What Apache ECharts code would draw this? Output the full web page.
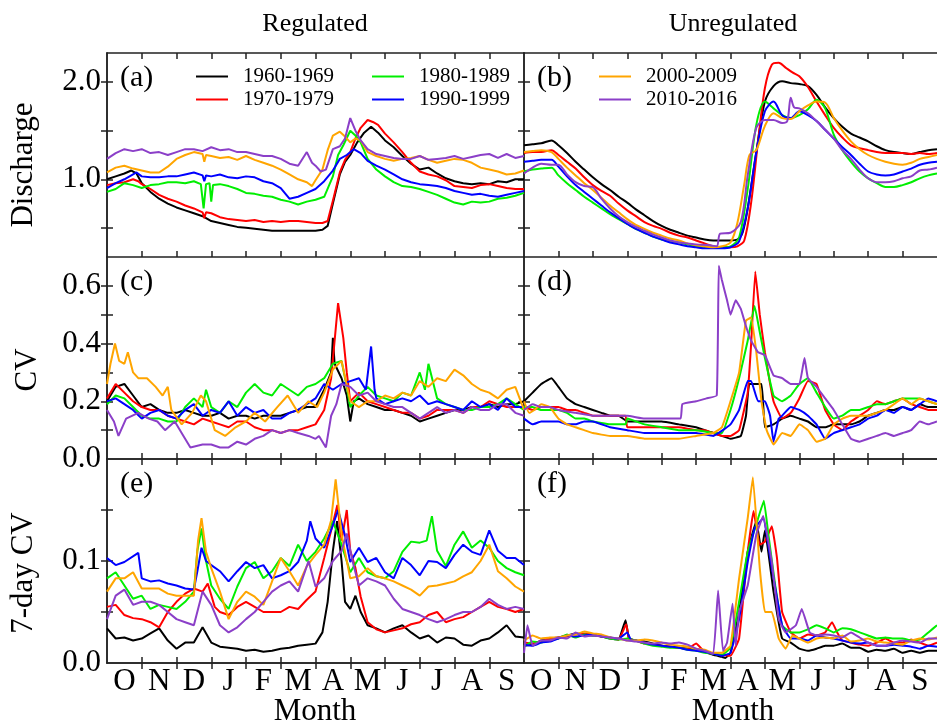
<!DOCTYPE html>
<html lang="en">
<head>
  <meta charset="UTF-8">
  <title>Discharge and CV, regulated vs unregulated</title>
  <script type="text/javascript" src="https://cdn.jsdelivr.net/npm/echarts@6/dist/echarts.min.js"></script>
  <style type="text/css">
    * { margin: 0; padding: 0; }
    html, body { width: 100%; height: 100%; background: #fff; }
    #chartbox { width: 937px; height: 723px; }
  </style>
</head>
<body>
<div id="chartbox"></div>
<script type="text/javascript">
  // month axis runs 0..12 (Oct .. Sep)
  const MONTHS = ['O', 'N', 'D', 'J', 'F', 'M', 'A', 'M', 'J', 'J', 'A', 'S'];
  const DECADES = ['1960-1969', '1970-1979', '1980-1989', '1990-1999', '2000-2009', '2010-2016'];

  // (a) regulated discharge
  const regQ60 = [[0,1.0],[0.25,1.03],[0.5,1.06],[0.7,1.09],[0.85,1.06],[1,0.96],[1.25,0.87],[1.5,0.80],[1.75,0.75],[2,0.71],[2.25,0.68],[2.5,0.65],[2.75,0.62],[3,0.57],[3.25,0.55],[3.5,0.53],[3.75,0.51],[4,0.50],[4.25,0.49],[4.5,0.48],[4.75,0.47],[5,0.47],[5.25,0.47],[5.5,0.47],[5.75,0.47],[6,0.47],[6.2,0.48],[6.35,0.52],[6.5,0.75],[6.7,1.05],[6.85,1.18],[7,1.25],[7.2,1.38],[7.4,1.48],[7.6,1.54],[7.8,1.48],[8,1.40],[8.25,1.33],[8.5,1.24],[8.75,1.16],[9,1.10],[9.25,1.12],[9.5,1.06],[9.75,1.01],[10,0.98],[10.25,0.96],[10.5,0.95],[10.75,0.96],[11,0.95],[11.25,0.98],[11.5,0.97],[11.75,1.0],[12,1.0]];
  const regQ70 = [[0,0.94],[0.25,0.96],[0.5,0.97],[0.75,1.0],[0.9,0.98],[1,0.95],[1.25,0.90],[1.5,0.84],[1.75,0.80],[2,0.77],[2.25,0.73],[2.5,0.70],[2.75,0.66],[2.8,0.60],[2.85,0.66],[3,0.65],[3.25,0.61],[3.5,0.59],[3.75,0.58],[4,0.57],[4.25,0.58],[4.5,0.56],[4.75,0.57],[5,0.56],[5.25,0.57],[5.5,0.57],[5.75,0.56],[6,0.55],[6.2,0.55],[6.35,0.57],[6.5,0.78],[6.7,1.07],[6.85,1.2],[7,1.28],[7.15,1.42],[7.3,1.53],[7.5,1.61],[7.65,1.59],[7.8,1.56],[8,1.47],[8.25,1.38],[8.5,1.28],[8.75,1.17],[9,1.08],[9.25,1.05],[9.5,1.03],[9.75,0.99],[10,0.93],[10.25,0.92],[10.5,0.91],[10.75,0.94],[11,0.95],[11.25,0.93],[11.5,0.91],[11.75,0.90],[12,0.90]];
  const regQ80 = [[0,0.87],[0.25,0.90],[0.5,0.96],[0.75,0.94],[1,0.91],[1.25,0.94],[1.5,0.95],[1.75,0.97],[2,0.97],[2.25,0.96],[2.5,0.98],[2.7,0.95],[2.78,0.70],[2.85,0.95],[2.95,0.96],[3.0,0.77],[3.05,0.94],[3.25,0.95],[3.5,0.93],[3.75,0.90],[4,0.86],[4.25,0.85],[4.5,0.83],[4.75,0.82],[5,0.79],[5.25,0.77],[5.5,0.74],[5.75,0.77],[6,0.79],[6.25,0.82],[6.5,1.03],[6.65,1.25],[6.8,1.35],[7,1.50],[7.15,1.45],[7.3,1.38],[7.5,1.21],[7.75,1.10],[8,1.03],[8.25,0.97],[8.5,0.93],[8.75,0.92],[9,0.90],[9.25,0.87],[9.5,0.84],[9.75,0.80],[10,0.76],[10.25,0.74],[10.5,0.77],[10.75,0.76],[11,0.77],[11.25,0.80],[11.5,0.81],[11.75,0.83],[12,0.86]];
  const regQ90 = [[0,0.91],[0.25,0.96],[0.5,1.0],[0.75,1.05],[0.85,1.07],[1,1.03],[1.25,1.02],[1.5,1.02],[1.75,1.03],[2,1.03],[2.25,1.05],[2.5,1.07],[2.75,1.04],[2.8,0.98],[2.85,1.04],[3,1.03],[3.25,1.05],[3.5,1.02],[3.75,1.01],[4,1.03],[4.25,1.02],[4.5,0.98],[4.75,0.96],[5,0.91],[5.25,0.80],[5.5,0.82],[5.75,0.86],[6,0.90],[6.25,0.98],[6.5,1.09],[6.7,1.21],[6.9,1.25],[7.1,1.31],[7.3,1.27],[7.5,1.19],[7.75,1.14],[8,1.10],[8.25,1.05],[8.5,1.00],[8.75,0.97],[9,0.95],[9.25,0.94],[9.5,0.93],[9.75,0.91],[10,0.88],[10.25,0.86],[10.5,0.84],[10.75,0.85],[11,0.83],[11.25,0.82],[11.5,0.84],[11.75,0.86],[12,0.88]];
  const regQ00 = [[0,1.07],[0.25,1.12],[0.5,1.14],[0.75,1.11],[1,1.09],[1.25,1.07],[1.5,1.07],[1.75,1.13],[2,1.21],[2.25,1.25],[2.5,1.28],[2.75,1.26],[2.8,1.18],[2.85,1.25],[3,1.24],[3.25,1.22],[3.5,1.23],[3.75,1.20],[4,1.24],[4.25,1.20],[4.5,1.17],[4.75,1.14],[5,1.10],[5.25,1.05],[5.5,1.00],[5.75,0.97],[5.9,0.93],[6,0.99],[6.2,1.10],[6.35,1.30],[6.5,1.45],[6.7,1.49],[6.85,1.44],[7,1.38],[7.15,1.42],[7.3,1.40],[7.5,1.28],[7.75,1.24],[8,1.21],[8.25,1.19],[8.5,1.21],[8.75,1.22],[9,1.24],[9.25,1.20],[9.5,1.17],[9.75,1.19],[10,1.21],[10.25,1.20],[10.5,1.17],[10.75,1.12],[11,1.10],[11.25,1.08],[11.5,1.05],[11.75,1.06],[12,1.09]];
  const regQ10 = [[0,1.21],[0.25,1.27],[0.5,1.31],[0.75,1.29],[1,1.31],[1.25,1.27],[1.5,1.28],[1.75,1.25],[2,1.28],[2.25,1.31],[2.5,1.31],[2.75,1.29],[3,1.33],[3.25,1.30],[3.5,1.31],[3.75,1.28],[4,1.28],[4.25,1.26],[4.5,1.24],[4.75,1.24],[5,1.21],[5.25,1.16],[5.5,1.14],[5.75,1.28],[5.9,1.17],[6,1.14],[6.15,1.08],[6.3,1.10],[6.5,1.31],[6.7,1.34],[6.85,1.42],[7,1.63],[7.15,1.50],[7.3,1.40],[7.5,1.31],[7.75,1.26],[8,1.24],[8.25,1.22],[8.5,1.21],[8.75,1.21],[9,1.24],[9.25,1.20],[9.5,1.21],[9.75,1.22],[10,1.24],[10.25,1.21],[10.5,1.23],[10.75,1.25],[11,1.26],[11.25,1.22],[11.5,1.26],[11.75,1.22],[12,1.24]];

  // (b) unregulated discharge
  const unregQ60 = [[0,1.35],[0.25,1.36],[0.5,1.37],[0.8,1.40],[1,1.35],[1.25,1.27],[1.5,1.18],[1.75,1.10],[2,1.02],[2.25,0.95],[2.5,0.89],[2.75,0.82],[3,0.76],[3.25,0.69],[3.5,0.63],[3.75,0.57],[4,0.52],[4.25,0.48],[4.5,0.45],[4.75,0.42],[5,0.40],[5.25,0.38],[5.5,0.37],[5.75,0.37],[6,0.37],[6.2,0.38],[6.35,0.45],[6.5,0.70],[6.75,1.28],[7,1.80],[7.25,1.96],[7.5,2.01],[7.75,1.99],[8,1.98],[8.25,1.96],[8.5,1.87],[8.75,1.74],[9,1.63],[9.25,1.54],[9.5,1.47],[9.75,1.43],[10,1.39],[10.25,1.34],[10.5,1.30],[10.75,1.28],[11,1.27],[11.25,1.26],[11.5,1.28],[11.75,1.30],[12,1.31]];
  const unregQ70 = [[0,1.27],[0.25,1.28],[0.5,1.28],[0.8,1.30],[1,1.25],[1.25,1.18],[1.5,1.11],[1.75,1.02],[2,0.94],[2.25,0.88],[2.5,0.83],[2.75,0.75],[3,0.68],[3.25,0.62],[3.5,0.56],[3.75,0.52],[4,0.49],[4.25,0.45],[4.5,0.42],[4.75,0.40],[5,0.37],[5.25,0.34],[5.5,0.31],[5.75,0.30],[6,0.30],[6.2,0.31],[6.4,0.37],[6.6,0.76],[6.8,1.39],[7,1.94],[7.2,2.18],[7.4,2.20],[7.6,2.15],[7.8,2.10],[8,2.06],[8.25,1.95],[8.5,1.80],[8.75,1.66],[9,1.53],[9.25,1.43],[9.5,1.35],[9.75,1.32],[10,1.30],[10.25,1.28],[10.5,1.27],[10.75,1.27],[11,1.27],[11.25,1.26],[11.5,1.27],[11.75,1.26],[12,1.27]];
  const unregQ80 = [[0,1.08],[0.25,1.10],[0.5,1.11],[0.8,1.12],[1,1.04],[1.25,0.96],[1.5,0.89],[1.75,0.82],[2,0.76],[2.25,0.70],[2.5,0.64],[2.75,0.59],[3,0.54],[3.25,0.49],[3.5,0.45],[3.75,0.41],[4,0.38],[4.25,0.36],[4.5,0.35],[4.75,0.33],[5,0.31],[5.25,0.30],[5.5,0.30],[5.75,0.30],[6,0.31],[6.25,0.40],[6.5,0.90],[6.75,1.56],[7,1.80],[7.25,1.73],[7.5,1.66],[7.75,1.63],[8,1.66],[8.25,1.72],[8.5,1.82],[8.75,1.73],[9,1.46],[9.25,1.30],[9.5,1.18],[9.75,1.08],[10,1.01],[10.25,0.96],[10.5,0.92],[10.75,0.92],[11,0.94],[11.25,0.97],[11.5,1.01],[11.75,1.04],[12,1.06]];
  const unregQ90 = [[0,1.18],[0.25,1.19],[0.5,1.20],[0.8,1.20],[1,1.13],[1.25,1.03],[1.5,0.94],[1.75,0.87],[2,0.80],[2.25,0.73],[2.5,0.66],[2.75,0.60],[3,0.54],[3.25,0.49],[3.5,0.45],[3.75,0.41],[4,0.38],[4.25,0.35],[4.5,0.33],[4.75,0.31],[5,0.30],[5.25,0.29],[5.5,0.29],[5.75,0.29],[6,0.30],[6.25,0.36],[6.5,0.70],[6.75,1.28],[7,1.70],[7.25,1.80],[7.5,1.66],[7.75,1.63],[8,1.70],[8.25,1.66],[8.5,1.60],[8.75,1.51],[9,1.42],[9.25,1.33],[9.5,1.25],[9.75,1.16],[10,1.08],[10.25,1.05],[10.5,1.04],[10.75,1.05],[11,1.08],[11.25,1.11],[11.5,1.15],[11.75,1.17],[12,1.18]];
  const unregQ00 = [[0,1.28],[0.25,1.29],[0.5,1.30],[0.8,1.28],[1,1.21],[1.25,1.12],[1.5,1.04],[1.75,0.96],[2,0.89],[2.25,0.81],[2.5,0.73],[2.75,0.66],[3,0.59],[3.25,0.53],[3.5,0.49],[3.75,0.45],[4,0.42],[4.25,0.39],[4.5,0.37],[4.75,0.34],[5,0.32],[5.25,0.31],[5.5,0.30],[5.75,0.31],[6,0.35],[6.2,0.55],[6.4,0.95],[6.55,1.25],[6.75,1.30],[7,1.55],[7.25,1.68],[7.5,1.63],[7.75,1.62],[8,1.70],[8.25,1.76],[8.5,1.80],[8.75,1.79],[9,1.63],[9.25,1.50],[9.5,1.39],[9.75,1.31],[10,1.25],[10.25,1.21],[10.5,1.18],[10.75,1.16],[11,1.15],[11.25,1.17],[11.5,1.21],[11.75,1.23],[12,1.25]];
  const unregQ10 = [[0,1.06],[0.25,1.12],[0.5,1.16],[0.8,1.15],[1,1.15],[1.25,1.05],[1.5,0.97],[1.75,0.93],[2,0.92],[2.25,0.80],[2.5,0.70],[2.75,0.62],[3,0.56],[3.25,0.51],[3.5,0.47],[3.75,0.43],[4,0.40],[4.25,0.37],[4.5,0.35],[4.75,0.34],[5,0.33],[5.4,0.32],[5.6,0.31],[5.7,0.44],[6,0.45],[6.3,0.56],[6.5,1.04],[6.75,1.53],[7,1.61],[7.25,1.61],[7.5,1.58],[7.65,1.60],[7.75,1.84],[7.85,1.74],[8,1.73],[8.25,1.68],[8.5,1.60],[8.75,1.51],[9,1.42],[9.25,1.30],[9.5,1.21],[9.75,1.10],[10,1.01],[10.25,0.97],[10.5,0.97],[10.75,0.98],[11,1.01],[11.25,1.03],[11.5,1.09],[11.75,1.10],[12,1.12]];

  // (c) regulated CV
  const regCv60 = [[0,0.20],[0.25,0.25],[0.5,0.26],[0.75,0.22],[1,0.18],[1.25,0.19],[1.5,0.17],[1.75,0.16],[2,0.16],[2.25,0.17],[2.5,0.16],[2.75,0.15],[3,0.15],[3.25,0.16],[3.5,0.14],[3.75,0.15],[4,0.15],[4.25,0.14],[4.5,0.15],[4.75,0.15],[5,0.15],[5.25,0.16],[5.5,0.17],[5.75,0.18],[6,0.18],[6.25,0.24],[6.45,0.30],[6.5,0.42],[6.55,0.33],[6.75,0.28],[6.9,0.22],[7,0.13],[7.1,0.20],[7.25,0.21],[7.5,0.19],[7.75,0.18],[8,0.17],[8.25,0.17],[8.5,0.16],[8.75,0.15],[9,0.13],[9.25,0.14],[9.5,0.15],[9.75,0.16],[10,0.17],[10.25,0.17],[10.5,0.18],[10.75,0.18],[11,0.19],[11.25,0.18],[11.5,0.19],[11.75,0.19],[12,0.20]];
  const regCv70 = [[0,0.21],[0.25,0.26],[0.5,0.23],[0.75,0.20],[1,0.18],[1.25,0.17],[1.5,0.17],[1.75,0.15],[2,0.14],[2.25,0.13],[2.5,0.12],[2.75,0.14],[3,0.13],[3.25,0.12],[3.5,0.11],[3.75,0.13],[4,0.13],[4.25,0.11],[4.5,0.10],[4.75,0.10],[5,0.09],[5.25,0.10],[5.5,0.10],[5.75,0.11],[6,0.12],[6.25,0.17],[6.45,0.28],[6.65,0.54],[6.8,0.42],[6.9,0.30],[7,0.20],[7.25,0.23],[7.5,0.20],[7.75,0.19],[8,0.18],[8.25,0.17],[8.5,0.16],[8.75,0.16],[9,0.14],[9.25,0.15],[9.5,0.17],[9.75,0.17],[10,0.17],[10.25,0.16],[10.5,0.18],[10.75,0.18],[11,0.20],[11.25,0.19],[11.5,0.18],[11.75,0.18],[12,0.18]];
  const regCv80 = [[0,0.19],[0.25,0.22],[0.5,0.21],[0.75,0.18],[1,0.15],[1.25,0.14],[1.5,0.14],[1.75,0.13],[2,0.13],[2.25,0.18],[2.5,0.21],[2.75,0.18],[2.85,0.24],[3,0.18],[3.25,0.16],[3.5,0.20],[3.75,0.18],[4,0.23],[4.25,0.26],[4.5,0.23],[4.75,0.22],[5,0.26],[5.25,0.24],[5.5,0.22],[5.75,0.25],[6,0.26],[6.25,0.28],[6.5,0.33],[6.75,0.34],[6.9,0.25],[7,0.18],[7.25,0.22],[7.5,0.25],[7.75,0.22],[8,0.21],[8.25,0.20],[8.5,0.23],[8.75,0.22],[9,0.30],[9.15,0.24],[9.25,0.33],[9.5,0.21],[9.75,0.19],[10,0.18],[10.25,0.17],[10.5,0.17],[10.75,0.18],[11,0.18],[11.25,0.19],[11.5,0.21],[11.75,0.19],[12,0.17]];
  const regCv90 = [[0,0.20],[0.25,0.21],[0.5,0.19],[0.75,0.17],[1,0.14],[1.25,0.16],[1.5,0.17],[1.75,0.15],[2,0.14],[2.25,0.17],[2.5,0.19],[2.75,0.15],[3,0.17],[3.25,0.16],[3.5,0.20],[3.75,0.15],[4,0.18],[4.25,0.16],[4.5,0.17],[4.75,0.14],[5,0.14],[5.25,0.16],[5.5,0.17],[5.75,0.19],[6,0.21],[6.25,0.26],[6.5,0.24],[6.75,0.26],[7,0.27],[7.25,0.28],[7.45,0.24],[7.6,0.39],[7.7,0.24],[7.75,0.21],[8,0.19],[8.25,0.20],[8.5,0.21],[8.75,0.20],[9,0.22],[9.25,0.19],[9.5,0.20],[9.75,0.19],[10,0.18],[10.25,0.17],[10.5,0.20],[10.75,0.18],[11,0.19],[11.25,0.17],[11.5,0.21],[11.75,0.18],[12,0.18]];
  const regCv00 = [[0,0.26],[0.1,0.33],[0.23,0.40],[0.35,0.34],[0.5,0.33],[0.6,0.37],[0.75,0.30],[0.9,0.28],[1.15,0.28],[1.4,0.25],[1.6,0.22],[1.75,0.25],[1.85,0.17],[2.15,0.12],[2.45,0.16],[2.7,0.22],[2.85,0.20],[3.1,0.10],[3.4,0.08],[3.7,0.11],[4,0.13],[4.25,0.16],[4.55,0.13],[4.9,0.18],[5.2,0.22],[5.5,0.16],[5.8,0.20],[6.05,0.18],[6.25,0.23],[6.5,0.31],[6.75,0.34],[7,0.20],[7.25,0.18],[7.5,0.20],[7.75,0.20],[8,0.22],[8.25,0.21],[8.5,0.23],[8.75,0.22],[9,0.27],[9.25,0.25],[9.5,0.28],[9.75,0.27],[10,0.31],[10.25,0.29],[10.5,0.26],[10.75,0.24],[11,0.23],[11.25,0.21],[11.5,0.24],[11.75,0.25],[12,0.17]];
  const regCv10 = [[0,0.17],[0.2,0.13],[0.33,0.08],[0.55,0.14],[0.9,0.16],[1.2,0.14],[1.45,0.13],[1.67,0.10],[1.95,0.13],[2.2,0.08],[2.4,0.04],[2.75,0.05],[3,0.05],[3.25,0.04],[3.5,0.04],[3.75,0.06],[4,0.05],[4.25,0.07],[4.5,0.08],[4.75,0.10],[5,0.09],[5.25,0.10],[5.5,0.09],[5.8,0.08],[6,0.07],[6.1,0.08],[6.3,0.04],[6.45,0.15],[6.6,0.19],[6.75,0.26],[7,0.25],[7.25,0.22],[7.5,0.23],[7.75,0.20],[8,0.19],[8.25,0.18],[8.5,0.18],[8.75,0.16],[9,0.14],[9.25,0.16],[9.5,0.18],[9.75,0.16],[10,0.17],[10.25,0.16],[10.5,0.18],[10.75,0.17],[11,0.17],[11.25,0.19],[11.5,0.19],[11.75,0.16],[12,0.15]];

  // (d) unregulated CV
  const unregCv60 = [[0,0.20],[0.25,0.23],[0.5,0.26],[0.8,0.28],[1,0.25],[1.25,0.21],[1.5,0.19],[1.75,0.18],[2,0.17],[2.25,0.16],[2.5,0.15],[2.75,0.15],[3,0.13],[3.5,0.13],[4,0.13],[4.5,0.12],[5,0.11],[5.25,0.10],[5.5,0.09],[5.75,0.08],[6,0.07],[6.3,0.08],[6.45,0.15],[6.55,0.26],[6.9,0.26],[7.0,0.11],[7.25,0.12],[7.5,0.14],[7.75,0.15],[8,0.14],[8.25,0.13],[8.5,0.11],[8.75,0.11],[9,0.12],[9.25,0.12],[9.5,0.12],[9.75,0.13],[10,0.15],[10.25,0.16],[10.5,0.17],[10.75,0.17],[11,0.18],[11.25,0.17],[11.5,0.19],[11.75,0.18],[12,0.18]];
  const unregCv70 = [[0,0.18],[0.25,0.17],[0.5,0.18],[0.75,0.18],[1,0.18],[1.25,0.17],[1.5,0.17],[1.75,0.16],[2,0.15],[2.5,0.15],[2.95,0.15],[3.0,0.11],[3.5,0.11],[4,0.11],[4.5,0.11],[5,0.10],[5.25,0.10],[5.5,0.09],[5.75,0.08],[6,0.08],[6.25,0.10],[6.5,0.23],[6.6,0.40],[6.72,0.65],[6.85,0.50],[7,0.37],[7.25,0.20],[7.5,0.14],[7.75,0.16],[8,0.21],[8.25,0.27],[8.5,0.26],[8.75,0.17],[9,0.12],[9.25,0.10],[9.5,0.13],[9.75,0.15],[10,0.17],[10.25,0.20],[10.5,0.19],[10.75,0.20],[11,0.21],[11.25,0.19],[11.5,0.18],[11.75,0.17],[12,0.17]];
  const unregCv80 = [[0,0.18],[0.25,0.18],[0.5,0.17],[0.75,0.17],[1,0.17],[1.25,0.16],[1.5,0.14],[1.75,0.14],[2,0.13],[2.5,0.12],[2.95,0.12],[3,0.14],[3.5,0.12],[4,0.11],[4.5,0.10],[5,0.10],[5.5,0.09],[5.75,0.09],[6,0.17],[6.25,0.28],[6.5,0.41],[6.7,0.53],[6.85,0.44],[7,0.35],[7.25,0.22],[7.5,0.20],[7.75,0.22],[8,0.26],[8.25,0.28],[8.5,0.23],[8.75,0.18],[9,0.14],[9.25,0.15],[9.5,0.17],[9.75,0.17],[10,0.18],[10.25,0.19],[10.5,0.19],[10.75,0.20],[11,0.21],[11.25,0.21],[11.5,0.21],[11.75,0.20],[12,0.19]];
  const unregCv90 = [[0,0.14],[0.25,0.12],[0.5,0.13],[0.75,0.13],[1,0.13],[1.25,0.12],[1.5,0.12],[1.75,0.13],[2,0.13],[2.5,0.11],[3,0.10],[3.5,0.09],[4,0.09],[4.5,0.09],[5,0.09],[5.5,0.08],[6,0.12],[6.25,0.17],[6.5,0.27],[6.6,0.27],[6.8,0.20],[7,0.20],[7.15,0.15],[7.25,0.06],[7.4,0.14],[7.5,0.15],[7.75,0.18],[8,0.17],[8.25,0.15],[8.5,0.12],[8.75,0.07],[9,0.09],[9.25,0.10],[9.5,0.11],[9.75,0.12],[10,0.14],[10.25,0.15],[10.5,0.17],[10.75,0.16],[11,0.18],[11.25,0.17],[11.5,0.19],[11.75,0.21],[12,0.20]];
  const unregCv00 = [[0,0.20],[0.15,0.16],[0.3,0.17],[0.5,0.19],[0.75,0.18],[1,0.14],[1.25,0.12],[1.5,0.11],[1.75,0.10],[2,0.09],[2.5,0.08],[3,0.08],[3.5,0.07],[4,0.07],[4.5,0.07],[5,0.08],[5.5,0.09],[5.75,0.11],[6,0.20],[6.25,0.30],[6.45,0.48],[6.6,0.49],[6.75,0.37],[6.9,0.20],[7.05,0.10],[7.25,0.05],[7.5,0.09],[7.75,0.08],[8,0.12],[8.25,0.10],[8.5,0.06],[8.75,0.07],[9,0.12],[9.25,0.14],[9.5,0.15],[9.75,0.15],[10,0.15],[10.25,0.16],[10.5,0.17],[10.75,0.19],[11,0.21],[11.25,0.19],[11.5,0.21],[11.75,0.20],[12,0.19]];
  const unregCv10 = [[0,0.17],[0.25,0.19],[0.5,0.18],[0.75,0.18],[1,0.17],[1.5,0.16],[2,0.15],[2.5,0.15],[3,0.15],[3.5,0.14],[4,0.14],[4.55,0.14],[4.6,0.19],[5,0.20],[5.3,0.21],[5.6,0.22],[5.66,0.67],[5.75,0.62],[5.9,0.55],[6.0,0.50],[6.15,0.55],[6.3,0.52],[6.45,0.46],[6.6,0.41],[6.8,0.37],[7,0.36],[7.25,0.29],[7.5,0.28],[7.75,0.26],[8,0.26],[8.15,0.35],[8.25,0.28],[8.5,0.25],[8.75,0.21],[9,0.17],[9.25,0.12],[9.5,0.07],[9.75,0.06],[10,0.07],[10.25,0.08],[10.5,0.09],[10.75,0.08],[11,0.09],[11.25,0.10],[11.5,0.13],[11.75,0.12],[12,0.13]];

  // (e) regulated 7-day CV
  const regCw60 = [[0,0.034],[0.25,0.024],[0.5,0.025],[0.75,0.022],[1,0.024],[1.25,0.029],[1.5,0.034],[1.75,0.022],[2,0.014],[2.25,0.020],[2.5,0.020],[2.75,0.035],[3,0.020],[3.25,0.016],[3.5,0.015],[3.75,0.014],[4,0.012],[4.25,0.013],[4.5,0.011],[4.75,0.012],[5,0.014],[5.25,0.015],[5.5,0.017],[5.75,0.018],[6,0.019],[6.2,0.030],[6.35,0.060],[6.5,0.110],[6.62,0.139],[6.75,0.100],[6.85,0.060],[7,0.053],[7.15,0.066],[7.3,0.050],[7.5,0.037],[7.75,0.034],[8,0.030],[8.25,0.034],[8.5,0.037],[8.75,0.030],[9,0.024],[9.25,0.027],[9.5,0.020],[9.75,0.025],[10,0.024],[10.25,0.018],[10.5,0.017],[10.75,0.022],[11,0.024],[11.25,0.030],[11.5,0.037],[11.75,0.026],[12,0.025]];
  const regCw70 = [[0,0.055],[0.25,0.057],[0.5,0.047],[0.75,0.044],[1,0.043],[1.25,0.040],[1.5,0.035],[1.75,0.050],[2,0.060],[2.25,0.068],[2.5,0.073],[2.75,0.070],[2.9,0.078],[3.1,0.055],[3.25,0.050],[3.5,0.047],[3.75,0.055],[4,0.060],[4.25,0.055],[4.5,0.050],[4.75,0.050],[5,0.050],[5.25,0.055],[5.5,0.053],[5.75,0.062],[6,0.070],[6.25,0.103],[6.45,0.130],[6.63,0.155],[6.75,0.120],[6.9,0.150],[7,0.110],[7.15,0.093],[7.3,0.065],[7.5,0.040],[7.75,0.033],[8,0.030],[8.25,0.032],[8.5,0.034],[8.75,0.038],[9,0.040],[9.25,0.047],[9.5,0.050],[9.75,0.040],[10,0.043],[10.25,0.045],[10.5,0.050],[10.75,0.055],[11,0.060],[11.25,0.055],[11.5,0.053],[11.75,0.050],[12,0.053]];
  const regCw80 = [[0,0.083],[0.25,0.089],[0.5,0.076],[0.75,0.063],[1,0.066],[1.25,0.053],[1.5,0.057],[1.75,0.055],[2,0.053],[2.25,0.060],[2.5,0.070],[2.6,0.110],[2.72,0.132],[2.85,0.100],[3,0.076],[3.25,0.063],[3.5,0.053],[3.75,0.075],[4,0.093],[4.25,0.099],[4.5,0.083],[4.75,0.090],[5,0.103],[5.25,0.095],[5.5,0.116],[5.75,0.100],[6,0.109],[6.25,0.122],[6.5,0.139],[6.75,0.116],[7,0.089],[7.25,0.103],[7.5,0.089],[7.75,0.085],[8,0.083],[8.25,0.090],[8.5,0.109],[8.75,0.119],[9,0.118],[9.2,0.120],[9.35,0.144],[9.5,0.110],[9.75,0.095],[10,0.116],[10.25,0.129],[10.5,0.113],[10.75,0.120],[11,0.113],[11.25,0.100],[11.5,0.093],[11.75,0.089],[12,0.086]];
  const regCw90 = [[0,0.103],[0.25,0.096],[0.5,0.099],[0.9,0.108],[1,0.083],[1.25,0.080],[1.5,0.081],[1.75,0.078],[2,0.076],[2.25,0.073],[2.5,0.072],[2.6,0.090],[2.72,0.113],[2.85,0.100],[3,0.096],[3.25,0.090],[3.5,0.080],[3.75,0.090],[4,0.099],[4.25,0.093],[4.5,0.096],[4.75,0.083],[5,0.086],[5.25,0.090],[5.5,0.099],[5.75,0.120],[5.85,0.139],[6,0.122],[6.25,0.113],[6.5,0.135],[6.65,0.150],[6.85,0.125],[7,0.099],[7.25,0.113],[7.5,0.099],[7.75,0.103],[8,0.089],[8.25,0.083],[8.5,0.103],[8.75,0.096],[9,0.086],[9.25,0.100],[9.5,0.099],[9.75,0.093],[10,0.106],[10.25,0.116],[10.5,0.109],[10.75,0.106],[11,0.130],[11.25,0.110],[11.5,0.103],[11.75,0.103],[12,0.096]];
  const regCw00 = [[0,0.070],[0.25,0.083],[0.5,0.083],[0.75,0.089],[1,0.073],[1.25,0.073],[1.5,0.073],[1.75,0.068],[2,0.066],[2.25,0.066],[2.5,0.066],[2.62,0.120],[2.72,0.142],[2.85,0.109],[3,0.093],[3.25,0.070],[3.5,0.043],[3.75,0.060],[4,0.070],[4.25,0.065],[4.5,0.057],[4.75,0.080],[5,0.103],[5.25,0.090],[5.5,0.076],[5.75,0.095],[6,0.106],[6.25,0.116],[6.45,0.140],[6.58,0.180],[6.75,0.126],[7,0.083],[7.25,0.085],[7.5,0.093],[7.75,0.085],[8,0.083],[8.25,0.080],[8.5,0.076],[8.75,0.072],[9,0.066],[9.25,0.075],[9.5,0.076],[9.75,0.078],[10,0.080],[10.25,0.085],[10.5,0.089],[10.75,0.100],[11,0.116],[11.25,0.090],[11.5,0.083],[11.75,0.075],[12,0.070]];
  const regCw10 = [[0,0.043],[0.25,0.066],[0.5,0.072],[0.75,0.057],[1,0.060],[1.25,0.060],[1.5,0.057],[1.75,0.050],[2,0.043],[2.25,0.040],[2.5,0.037],[2.75,0.070],[3,0.057],[3.25,0.037],[3.5,0.030],[3.75,0.035],[4,0.043],[4.25,0.050],[4.5,0.060],[4.75,0.070],[5,0.076],[5.25,0.080],[5.5,0.070],[5.8,0.100],[6,0.075],[6.25,0.083],[6.5,0.100],[6.75,0.110],[6.9,0.127],[7.1,0.095],[7.25,0.076],[7.5,0.083],[7.75,0.080],[8,0.076],[8.25,0.063],[8.5,0.053],[8.75,0.050],[9,0.047],[9.25,0.043],[9.5,0.040],[9.75,0.043],[10,0.047],[10.25,0.050],[10.5,0.050],[10.75,0.055],[11,0.063],[11.25,0.057],[11.5,0.053],[11.75,0.055],[12,0.053]];

  // (f) unregulated 7-day CV
  const unregCw60 = [[0,0.017],[0.25,0.018],[0.5,0.022],[0.75,0.024],[1,0.025],[1.25,0.027],[1.5,0.029],[1.75,0.028],[2,0.027],[2.25,0.026],[2.5,0.024],[2.75,0.023],[2.95,0.042],[3.05,0.024],[3.25,0.022],[3.5,0.021],[3.75,0.019],[4,0.017],[4.25,0.016],[4.5,0.015],[4.75,0.014],[5,0.013],[5.25,0.011],[5.5,0.008],[5.75,0.006],[5.85,0.005],[6,0.010],[6.25,0.050],[6.5,0.109],[6.75,0.139],[6.9,0.109],[7,0.130],[7.25,0.070],[7.5,0.024],[7.75,0.020],[8,0.014],[8.25,0.012],[8.5,0.014],[8.75,0.017],[9,0.017],[9.25,0.019],[9.5,0.015],[9.75,0.015],[10,0.011],[10.25,0.013],[10.5,0.012],[10.75,0.014],[11,0.010],[11.25,0.012],[11.5,0.010],[11.75,0.012],[12,0.012]];
  const unregCw70 = [[0,0.020],[0.25,0.019],[0.5,0.021],[0.75,0.024],[1,0.025],[1.25,0.026],[1.5,0.028],[1.75,0.029],[2,0.028],[2.25,0.026],[2.5,0.025],[2.75,0.023],[2.97,0.038],[3.05,0.024],[3.25,0.022],[3.5,0.019],[3.75,0.018],[4,0.017],[4.25,0.016],[4.5,0.015],[4.75,0.014],[5,0.019],[5.25,0.011],[5.5,0.009],[5.75,0.008],[6,0.007],[6.25,0.024],[6.5,0.109],[6.67,0.149],[6.85,0.116],[7,0.119],[7.2,0.134],[7.35,0.103],[7.5,0.050],[7.75,0.030],[8,0.024],[8.25,0.028],[8.5,0.027],[8.75,0.030],[8.95,0.040],[9.1,0.030],[9.25,0.022],[9.5,0.020],[9.75,0.018],[10,0.017],[10.25,0.020],[10.5,0.024],[10.75,0.020],[11,0.020],[11.25,0.023],[11.5,0.020],[11.75,0.017],[12,0.020]];
  const unregCw80 = [[0,0.016],[0.25,0.021],[0.5,0.020],[0.75,0.022],[1,0.024],[1.25,0.028],[1.5,0.025],[1.75,0.028],[2,0.027],[2.25,0.026],[2.5,0.024],[2.75,0.023],[3,0.024],[3.25,0.022],[3.5,0.019],[3.75,0.017],[4,0.016],[4.25,0.015],[4.5,0.015],[4.75,0.013],[5,0.012],[5.25,0.010],[5.5,0.009],[5.75,0.008],[6,0.015],[6.25,0.060],[6.5,0.109],[6.75,0.136],[6.97,0.159],[7.1,0.126],[7.3,0.076],[7.5,0.037],[7.75,0.030],[8,0.030],[8.25,0.033],[8.5,0.037],[8.75,0.034],[9,0.030],[9.25,0.034],[9.5,0.033],[9.75,0.030],[10,0.027],[10.25,0.024],[10.5,0.025],[10.75,0.024],[11,0.024],[11.25,0.022],[11.5,0.023],[11.75,0.030],[12,0.037]];
  const unregCw90 = [[0,0.018],[0.25,0.017],[0.5,0.020],[0.75,0.021],[1,0.024],[1.25,0.027],[1.5,0.026],[1.75,0.027],[2,0.028],[2.25,0.026],[2.5,0.025],[2.75,0.024],[3,0.030],[3.1,0.023],[3.25,0.022],[3.5,0.020],[3.75,0.018],[4,0.017],[4.25,0.016],[4.5,0.015],[4.75,0.013],[5,0.012],[5.25,0.011],[5.5,0.009],[5.75,0.007],[6,0.010],[6.25,0.043],[6.5,0.099],[6.7,0.132],[6.95,0.142],[7.2,0.093],[7.5,0.037],[7.75,0.024],[8,0.024],[8.25,0.022],[8.5,0.027],[8.75,0.025],[9,0.024],[9.25,0.022],[9.5,0.020],[9.75,0.019],[10,0.020],[10.25,0.017],[10.5,0.017],[10.75,0.018],[11,0.017],[11.25,0.016],[11.5,0.014],[11.75,0.017],[12,0.016]];
  const unregCw00 = [[0,0.022],[0.25,0.027],[0.5,0.024],[0.75,0.025],[1,0.025],[1.25,0.027],[1.5,0.028],[1.75,0.031],[2,0.029],[2.25,0.028],[2.5,0.025],[2.75,0.024],[3,0.022],[3.25,0.022],[3.5,0.023],[3.75,0.022],[4,0.020],[4.25,0.018],[4.5,0.017],[4.75,0.016],[5,0.014],[5.25,0.013],[5.5,0.010],[5.75,0.010],[6,0.017],[6.25,0.083],[6.5,0.142],[6.65,0.182],[6.85,0.093],[7,0.050],[7.2,0.050],[7.4,0.024],[7.6,0.014],[7.8,0.027],[8,0.024],[8.25,0.020],[8.5,0.024],[8.75,0.025],[9,0.024],[9.25,0.027],[9.5,0.021],[9.75,0.022],[10,0.024],[10.25,0.021],[10.5,0.020],[10.75,0.019],[11,0.018],[11.25,0.022],[11.5,0.024],[11.75,0.023],[12,0.025]];
  const unregCw10 = [[0,0.010],[0.1,0.037],[0.25,0.017],[0.5,0.022],[0.75,0.022],[1,0.025],[1.25,0.024],[1.5,0.030],[1.75,0.026],[2,0.027],[2.25,0.026],[2.5,0.025],[2.75,0.024],[3,0.022],[3.25,0.021],[3.5,0.020],[3.75,0.019],[4,0.020],[4.25,0.019],[4.5,0.020],[4.75,0.018],[5,0.014],[5.25,0.012],[5.5,0.009],[5.64,0.071],[5.78,0.012],[5.9,0.020],[6.06,0.058],[6.15,0.017],[6.25,0.050],[6.5,0.076],[6.75,0.126],[6.95,0.144],[7.2,0.099],[7.4,0.043],[7.6,0.030],[7.9,0.037],[8.07,0.053],[8.3,0.030],[8.5,0.027],[8.75,0.028],[9,0.027],[9.25,0.025],[9.5,0.030],[9.75,0.025],[10,0.020],[10.25,0.017],[10.5,0.017],[10.75,0.020],[11,0.022],[11.25,0.021],[11.5,0.020],[11.75,0.024],[12,0.024]];

  const COLORS = ['#000000', '#ff0000', '#00ee00', '#0000ff', '#ffa500', '#8b3fc8'];
  const FONT = '"Liberation Serif", "Times New Roman", serif';
  const MONTH_TICKS = [1, 2, 3, 4, 5, 6, 7, 8, 9, 10, 11];
  const MONTH_LABEL_POS = [0.5, 1.5, 2.5, 3.5, 4.5, 5.5, 6.5, 7.5, 8.5, 9.5, 10.5, 11.5];

  const colLeft = [107, 524];
  const colWidth = 417;
  const rowTop = [53, 257, 459];
  const rowHeight = [204, 202, 204];

  const panels = [
    {tag: '(a)', col: 0, row: 0, min: 0.2, max: 2.3, ticks: [0.5, 1, 1.5, 2], labels: [1, 2], smooth: 0,
      data: [regQ60, regQ70, regQ80, regQ90, regQ00, regQ10]},
    {tag: '(b)', col: 1, row: 0, min: 0.2, max: 2.3, ticks: [0.5, 1, 1.5, 2], labels: [], smooth: 0.3,
      data: [unregQ60, unregQ70, unregQ80, unregQ90, unregQ00, unregQ10]},
    {tag: '(c)', col: 0, row: 1, min: 0, max: 0.7, ticks: [0.1, 0.2, 0.3, 0.4, 0.5, 0.6], labels: [0, 0.2, 0.4, 0.6], smooth: 0,
      data: [regCv60, regCv70, regCv80, regCv90, regCv00, regCv10]},
    {tag: '(d)', col: 1, row: 1, min: 0, max: 0.7, ticks: [0.1, 0.2, 0.3, 0.4, 0.5, 0.6], labels: [], smooth: 0.1,
      data: [unregCv60, unregCv70, unregCv80, unregCv90, unregCv00, unregCv10]},
    {tag: '(e)', col: 0, row: 2, min: 0, max: 0.2, ticks: [0.05, 0.1, 0.15], labels: [0, 0.1], smooth: 0,
      data: [regCw60, regCw70, regCw80, regCw90, regCw00, regCw10]},
    {tag: '(f)', col: 1, row: 2, min: 0, max: 0.2, ticks: [0.05, 0.1, 0.15], labels: [], smooth: 0.1,
      data: [unregCw60, unregCw70, unregCw80, unregCw90, unregCw00, unregCw10]}
  ];

  const lineAxis = {show: true, lineStyle: {color: '#222', width: 1.5}};
  const tickStyle = {lineStyle: {color: '#222', width: 1.5}};

  let grids = [], xAxes = [], yAxes = [], series = [], graphics = [];

  panels.forEach(function (p, i) {
    grids.push({left: colLeft[p.col], top: rowTop[p.row], width: colWidth, height: rowHeight[p.row]});
    let bottomRow = p.row === 2;
    // bottom (data) and top (mirror ticks) month axes
    xAxes.push({
      type: 'value', gridIndex: i, min: 0, max: 12, position: 'bottom',
      axisLine: lineAxis,
      axisTick: Object.assign({show: true, inside: true, length: 6, customValues: MONTH_TICKS}, tickStyle),
      axisLabel: {
        show: bottomRow, customValues: MONTH_LABEL_POS, margin: 3,
        fontFamily: FONT, fontSize: 31, color: '#000',
        formatter: function (v) { return MONTHS[Math.floor(v)]; }
      },
      splitLine: {show: false}
    });
    xAxes.push({
      type: 'value', gridIndex: i, min: 0, max: 12, position: 'top',
      axisLine: lineAxis,
      axisTick: Object.assign({show: true, inside: true, length: 6, customValues: MONTH_TICKS}, tickStyle),
      axisLabel: {show: false}, splitLine: {show: false}
    });
    yAxes.push({
      type: 'value', gridIndex: i, min: p.min, max: p.max, position: 'left',
      axisLine: lineAxis,
      axisTick: Object.assign({show: true, inside: true, length: 6, customValues: p.ticks}, tickStyle),
      axisLabel: {
        show: p.labels.length > 0, customValues: p.labels, margin: 6,
        fontFamily: FONT, fontSize: 31, color: '#000',
        formatter: function (v) { return v.toFixed(1); }
      },
      splitLine: {show: false}
    });
    yAxes.push({
      type: 'value', gridIndex: i, min: p.min, max: p.max, position: 'right',
      axisLine: lineAxis,
      axisTick: Object.assign({show: true, inside: true, length: 6, customValues: p.ticks}, tickStyle),
      axisLabel: {show: false}, splitLine: {show: false}
    });
    p.data.forEach(function (d, k) {
      series.push({
        name: DECADES[k], type: 'line', xAxisIndex: i * 2, yAxisIndex: i * 2,
        data: d, showSymbol: false, symbol: 'none', smooth: p.smooth,
        lineStyle: {color: COLORS[k], width: 2}, itemStyle: {color: COLORS[k]},
        emphasis: {disabled: true}, animation: false
      });
    });
    graphics.push({
      type: 'text', x: colLeft[p.col] + 13, y: rowTop[p.row] + 25,
      style: {text: p.tag, font: '30px ' + FONT, fill: '#000', textAlign: 'left', textVerticalAlign: 'middle'}
    });
  });

  // column titles, y names, x names
  graphics.push(
    {type: 'text', x: 315, y: 24, style: {text: 'Regulated', font: '26px ' + FONT, fill: '#000', textAlign: 'center', textVerticalAlign: 'middle'}},
    {type: 'text', x: 733, y: 24, style: {text: 'Unregulated', font: '26px ' + FONT, fill: '#000', textAlign: 'center', textVerticalAlign: 'middle'}},
    {type: 'text', x: 24, y: 165, rotation: Math.PI / 2, style: {text: 'Discharge', font: '31px ' + FONT, fill: '#000', textAlign: 'center', textVerticalAlign: 'middle'}},
    {type: 'text', x: 28, y: 370, rotation: Math.PI / 2, style: {text: 'CV', font: '31px ' + FONT, fill: '#000', textAlign: 'center', textVerticalAlign: 'middle'}},
    {type: 'text', x: 24, y: 573, rotation: Math.PI / 2, style: {text: '7-day CV', font: '31px ' + FONT, fill: '#000', textAlign: 'center', textVerticalAlign: 'middle'}},
    {type: 'text', x: 315, y: 712, style: {text: 'Month', font: '31px ' + FONT, fill: '#000', textAlign: 'center', textVerticalAlign: 'middle'}},
    {type: 'text', x: 733, y: 712, style: {text: 'Month', font: '31px ' + FONT, fill: '#000', textAlign: 'center', textVerticalAlign: 'middle'}}
  );

  const legendBase = {
    orient: 'vertical', icon: 'rect', itemWidth: 32, itemHeight: 2, itemGap: 2, selectedMode: false,
    textStyle: {fontFamily: FONT, fontSize: 21, color: '#000', lineHeight: 21, padding: [0, 0, 0, 10]}
  };

  let myChart = echarts.init(document.getElementById('chartbox'));
  myChart.setOption({
    backgroundColor: '#fff',
    animation: false,
    grid: grids,
    xAxis: xAxes,
    yAxis: yAxes,
    legend: [
      Object.assign({data: [DECADES[0], DECADES[1]], left: 191, top: 61}, legendBase),
      Object.assign({data: [DECADES[2], DECADES[3]], left: 367, top: 61}, legendBase),
      Object.assign({data: [DECADES[4], DECADES[5]], left: 594, top: 61}, legendBase)
    ],
    series: series,
    graphic: graphics
  });
</script>
</body>
</html>
